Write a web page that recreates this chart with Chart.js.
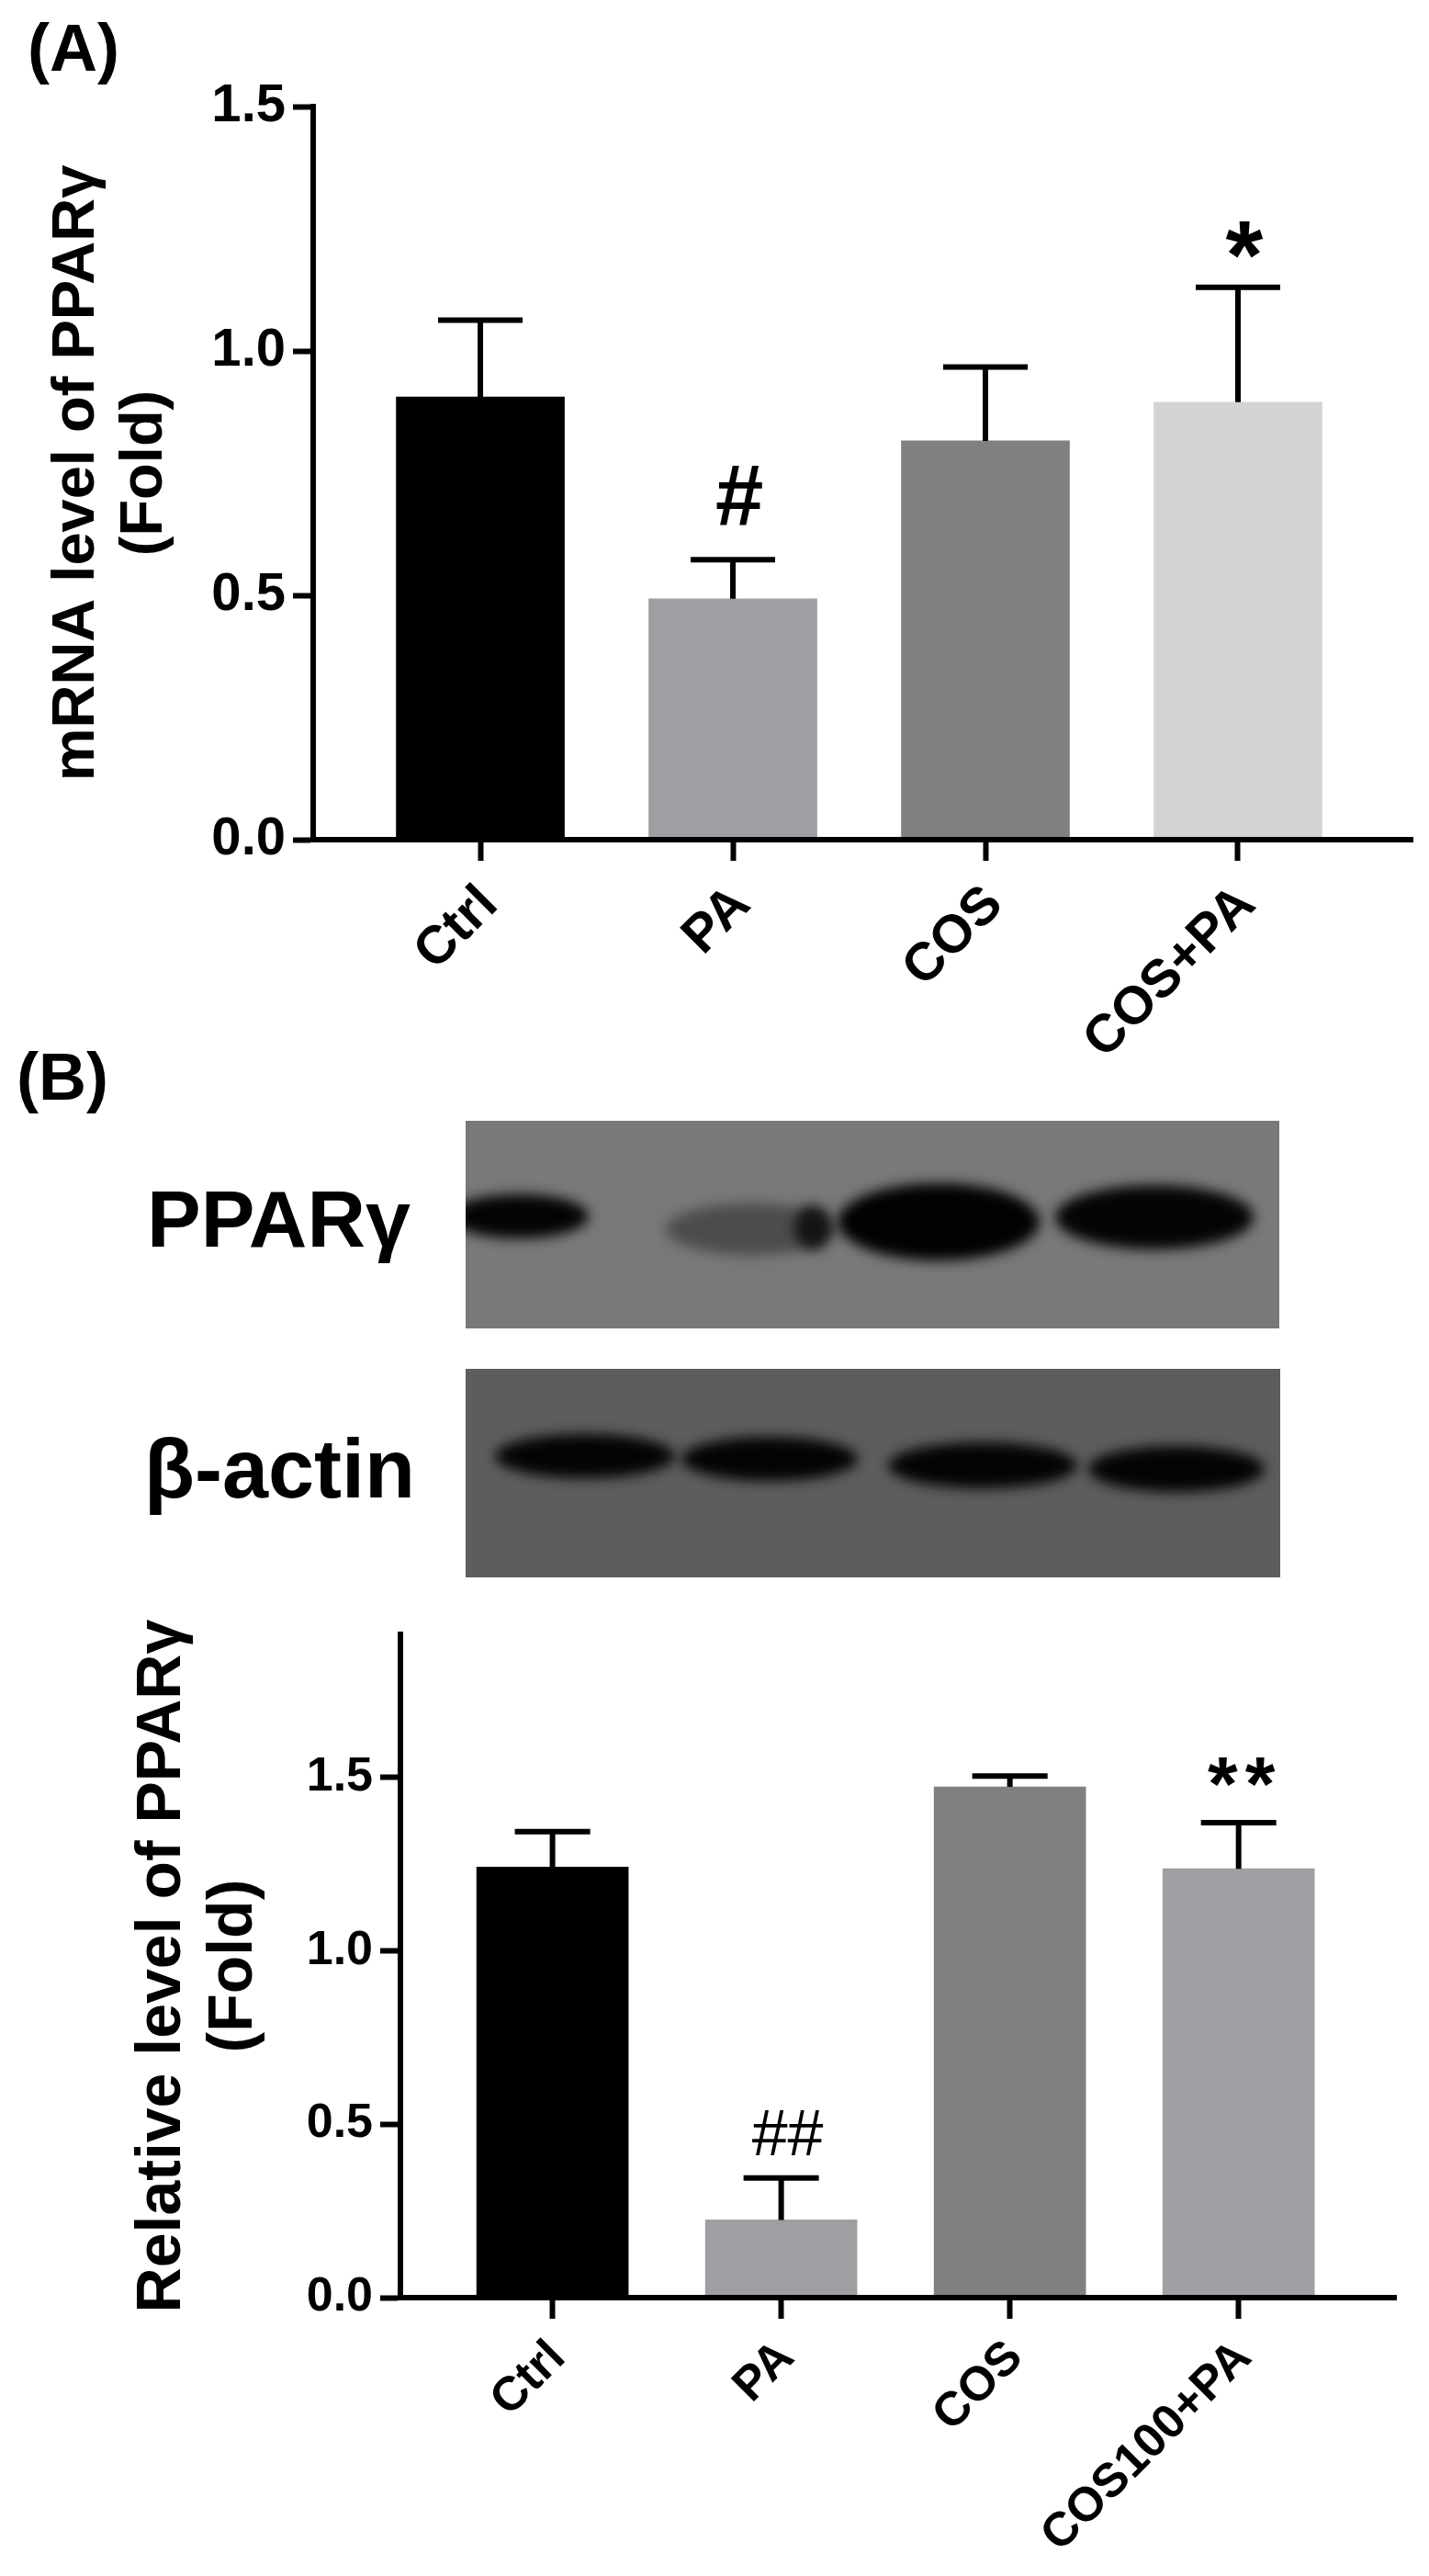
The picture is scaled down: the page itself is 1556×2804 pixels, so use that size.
<!DOCTYPE html>
<html>
<head>
<meta charset="utf-8">
<title>PPARγ</title>
<script src="https://cdn.jsdelivr.net/npm/chart.js@4/dist/chart.umd.min.js"></script>
<style>
  body { margin: 0; background: #fff; width: 1556px; height: 2804px; position: relative; overflow: hidden; }
  canvas { position: absolute; left: 0; filter: blur(0.7px); }
  .lbl { position: absolute; font-family: "Liberation Sans", Arial, sans-serif; font-weight: bold; color: #000; line-height: 1; white-space: nowrap; filter: blur(0.7px); }
</style>
</head>
<body>
<canvas id="chartA" width="1556" height="1190" style="top:0"></canvas>
<canvas id="blot1" width="886" height="226" style="left:507px;top:1220px"></canvas>
<canvas id="blot2" width="887" height="227" style="left:507px;top:1490px"></canvas>
<canvas id="chartB" width="1556" height="1064" style="top:1740px"></canvas>
<div class="lbl" style="left:30px;top:16px;font-size:72px">(A)</div>
<div class="lbl" style="left:18px;top:1136px;font-size:72px">(B)</div>
<div class="lbl" style="left:160px;top:1283px;font-size:88px">PPARγ</div>
<div class="lbl" style="left:157px;top:1554px;font-size:90px">β-actin</div>
<script>
const categoriesA = ["Ctrl", "PA", "COS", "COS+PA"];
const meansA = [0.906, 0.493, 0.816, 0.895];
const errorsA = [0.157, 0.080, 0.151, 0.235];
const marksA = ["", "#", "", "*"];
const ticksA = [0, 0.5, 1.0, 1.5];
const coloursA = ["#000000", "#9f9ea2", "#808080", "#d3d3d3"];

const categoriesB = ["Ctrl", "PA", "COS", "COS100+PA"];
const meansB = [1.241, 0.224, 1.472, 1.236];
const errorsB = [0.102, 0.121, 0.031, 0.133];
const marksB = ["", "##", "", "**"];
const ticksB = [0, 0.5, 1.0, 1.5];
const coloursB = ["#000000", "#9f9ea2", "#808080", "#a19fa3"];

// [centre x, centre y, half width, half height, darkness colour] inside each blot
const bands1 = [
    [58, 104, 76, 24, "#040404"],
    [310, 118, 92, 28, "#4c4c4c"],
    [378, 116, 20, 24, "#141414"],
    [515, 110, 110, 42, "#020202"],
    [750, 105, 108, 35, "#050505"]
];
const bands2 = [
    [130, 95, 98, 24, "#040404"],
    [331, 98, 96, 24, "#040404"],
    [563, 105, 103, 25, "#040404"],
    [774, 109, 96, 25, "#040404"]
];

const fontName = '"Liberation Sans", Arial, sans-serif';

function drawBlot(id, background, bands) {
    const c = document.getElementById(id);
    const ctx = c.getContext("2d");
    ctx.fillStyle = background;
    ctx.fillRect(0, 0, c.width, c.height);
    ctx.filter = "blur(7px)";
    bands.forEach(b => {
        ctx.fillStyle = b[4];
        ctx.beginPath();
        ctx.ellipse(b[0], b[1], b[2], b[3], 0, 0, Math.PI * 2);
        ctx.fill();
    });
    ctx.filter = "none";
}

drawBlot("blot1", "#797979", bands1);
drawBlot("blot2", "#5d5d5d", bands2);

// error bars and significance marks, placed through the chart's own scales
function errorPlugin(errors, marks, cfg) {
    return {
        id: "errors",
        afterDatasetsDraw(chart) {
            const { ctx, scales } = chart;
            const means = chart.data.datasets[0].data;
            ctx.save();
            ctx.strokeStyle = "#000";
            ctx.fillStyle = "#000";
            ctx.lineWidth = 6;
            means.forEach((d, i) => {
                const x = scales.x.getPixelForValue(d.x);
                const yBase = scales.y.getPixelForValue(d.y);
                const yTop = scales.y.getPixelForValue(d.y + errors[i]);
                ctx.beginPath();
                ctx.moveTo(x, yBase);
                ctx.lineTo(x, yTop);
                ctx.moveTo(x - cfg.capHalf, yTop);
                ctx.lineTo(x + cfg.capHalf, yTop);
                ctx.stroke();
                if (marks[i]) {
                    const m = marks[i][0] === "#" ? cfg.hash : cfg.star;
                    ctx.font = m.weight + " " + m.size + "px " + fontName;
                    ctx.letterSpacing = m.spacing + "px";
                    ctx.textAlign = "center";
                    ctx.textBaseline = "alphabetic";
                    ctx.fillText(marks[i], x + 7, yTop - m.lift);
                }
            });
            ctx.restore();
        }
    };
}

function makeChart(id, cats, means, errors, marks, yTicks, colours, cfg) {
    new Chart(document.getElementById(id), {
        type: "bar",
        data: {
            datasets: [{
                data: cats.map((c, i) => ({ x: i + 1, y: means[i] })),
                backgroundColor: colours,
                barThickness: cfg.barWidth
            }]
        },
        options: {
            responsive: false,
            animation: false,
            events: [],
            layout: { padding: cfg.padding },
            plugins: { legend: { display: false }, tooltip: { enabled: false } },
            scales: {
                x: {
                    type: "linear",
                    offset: false,
                    min: cfg.xMin,
                    max: cfg.xMax,
                    afterFit: s => { s.height = cfg.xHeight; },
                    afterBuildTicks: s => { s.ticks = cats.map((c, i) => ({ value: i + 1 })); },
                    border: { color: "#000", width: 6, z: 1 },
                    grid: { drawOnChartArea: false, offset: false, color: "#000", tickColor: "#000", tickWidth: 6, tickLength: 23 },
                    ticks: {
                        autoSkip: false,
                        minRotation: 45,
                        maxRotation: 45,
                        color: "#000",
                        padding: cfg.xPad,
                        labelOffset: cfg.xShift,
                        font: { family: fontName, size: cfg.xFont, weight: "bold" },
                        callback: v => cats[v - 1]
                    }
                },
                y: {
                    min: 0,
                    max: cfg.yMax,
                    afterFit: s => { s.width = cfg.yWidth; },
                    afterBuildTicks: s => { s.ticks = yTicks.map(v => ({ value: v })); },
                    border: { color: "#000", width: 6, z: 1 },
                    grid: { drawOnChartArea: false, color: "#000", tickColor: "#000", tickWidth: 6, tickLength: 22 },
                    title: {
                        display: true,
                        text: cfg.title,
                        color: "#000",
                        padding: { top: cfg.titlePad, bottom: 0 },
                        font: { family: fontName, size: cfg.titleFont, weight: "bold", lineHeight: cfg.titleLine }
                    },
                    ticks: {
                        color: "#000",
                        padding: 8,
                        font: { family: fontName, size: cfg.yFont, weight: "bold" },
                        callback: v => v.toFixed(1)
                    }
                }
            }
        },
        plugins: [errorPlugin(errors, marks, cfg)]
    });
}

makeChart("chartA", categoriesA, meansA, errorsA, marksA, ticksA, coloursA, {
    title: ["mRNA level of PPARγ", "(Fold)"],
    padding: { left: 0, top: 116, right: 18, bottom: 0 },
    yWidth: 341, xHeight: 276, xMin: 0.338, xMax: 4.691, yMax: 1.5,
    barWidth: 183, capHalf: 46, xPad: 14, xShift: 10, xFont: 58, yFont: 58,
    titleFont: 65, titleLine: 1.14, titlePad: 47,
    hash: { size: 94, lift: 37, weight: "bold", spacing: 0 },
    star: { size: 105, lift: -1, weight: "bold", spacing: 0 }
});

makeChart("chartB", categoriesB, meansB, errorsB, marksB, ticksB, coloursB, {
    title: ["Relative level of PPARγ", "(Fold)"],
    padding: { left: 0, top: 36, right: 36, bottom: 0 },
    yWidth: 436, xHeight: 303, xMin: 0.335, xMax: 4.688, yMax: 1.911,
    barWidth: 165, capHalf: 41, xPad: 12, xShift: 6, xFont: 52, yFont: 52,
    titleFont: 68, titleLine: 1.15, titlePad: 138,
    hash: { size: 70, lift: 25, weight: "normal", spacing: 0 },
    star: { size: 84, lift: 13, weight: "bold", spacing: 8 }
});
</script>
</body>
</html>
